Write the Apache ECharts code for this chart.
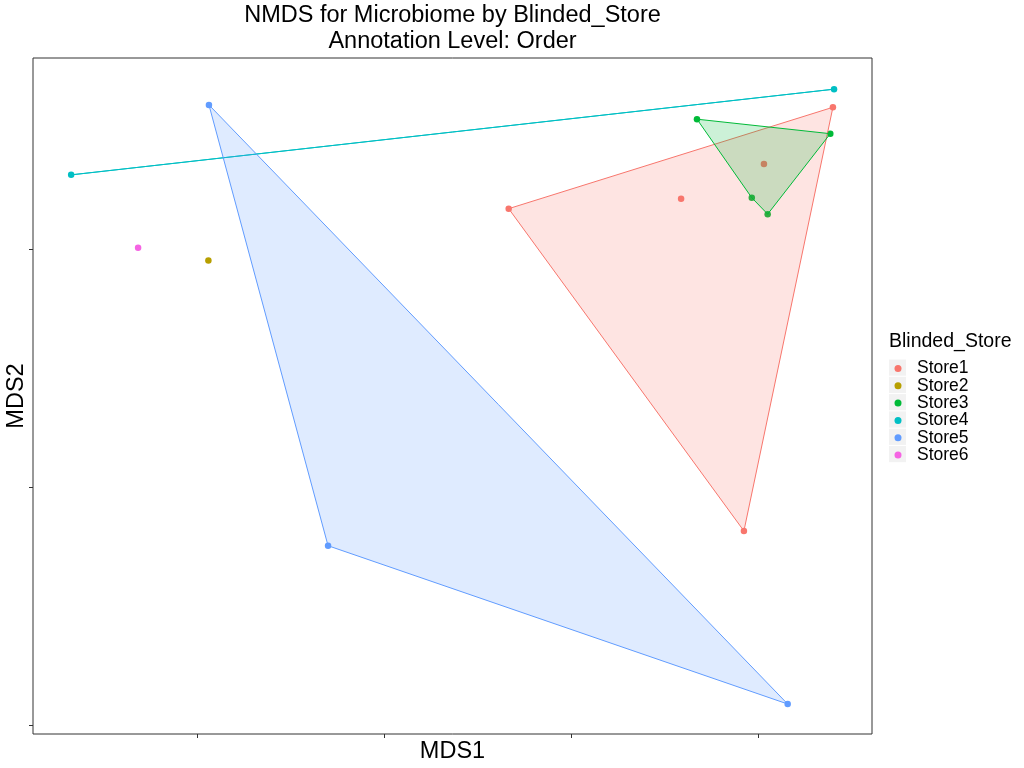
<!DOCTYPE html>
<html>
<head>
<meta charset="utf-8">
<title>NMDS for Microbiome by Blinded_Store</title>
<script src="https://cdn.jsdelivr.net/npm/echarts@6/dist/echarts.min.js"></script>
<style>
    html, body { margin: 0; padding: 0; background: #fff; }
    #chart { width: 1024px; height: 768px; }
</style>
</head>
<body>
<div id="chart"></div>
<script>
// stores and their colours (ggplot default hue palette)
var storeNames = ['Store1', 'Store2', 'Store3', 'Store4', 'Store5', 'Store6'];
var storeColors = ['#F8766D', '#B79F00', '#00BA38', '#00BFC4', '#619CFF', '#F564E3'];

// NMDS scores [MDS1, MDS2]
var store1 = [[-0.0336, 0.1172], [0.0586, 0.1214], [0.1398, 0.1598], [0.0922, -0.0182], [0.1029, 0.1360]];
var store2 = [[-0.1942, 0.0954]];
var store3 = [[0.0671, 0.1548], [0.1384, 0.1487], [0.1049, 0.1149], [0.0964, 0.1218]];
var store4 = [[-0.2676, 0.1314], [0.1404, 0.1674]];
var store5 = [[-0.1939, 0.1608], [-0.1302, -0.0244], [0.1156, -0.0909]];
var store6 = [[-0.2318, 0.1008]];
var storeData = [store1, store2, store3, store4, store5, store6];

// tick positions (no labels are shown)
var xTicks = [-0.2, -0.1, 0, 0.1];
var yTicks = [-0.1, 0, 0.1];

var FONT = 'Liberation Sans';

// convex hull (monotone chain), same idea as chull() in R
var convexHull = function (points) {
    var pts = points.slice().sort(function (a, b) { return a[0] - b[0] || a[1] - b[1]; });
    if (pts.length < 3) {
        return pts;
    }
    var cross = function (o, a, b) {
        return (a[0] - o[0]) * (b[1] - o[1]) - (a[1] - o[1]) * (b[0] - o[0]);
    };
    var lower = [], upper = [], i;
    for (i = 0; i < pts.length; i++) {
        while (lower.length >= 2 && cross(lower[lower.length - 2], lower[lower.length - 1], pts[i]) <= 0) {
            lower.pop();
        }
        lower.push(pts[i]);
    }
    for (i = pts.length - 1; i >= 0; i--) {
        while (upper.length >= 2 && cross(upper[upper.length - 2], upper[upper.length - 1], pts[i]) <= 0) {
            upper.pop();
        }
        upper.push(pts[i]);
    }
    upper.pop();
    lower.pop();
    return lower.concat(upper);
};

var hexToRgba = function (hex, a) {
    var n = parseInt(hex.slice(1), 16);
    return 'rgba(' + (n >> 16) + ',' + ((n >> 8) & 255) + ',' + (n & 255) + ',' + a + ')';
};

var series = [];

// points
storeNames.forEach(function (name, i) {
    series.push({
        name: name,
        type: 'scatter',
        data: storeData[i],
        symbol: 'circle',
        symbolSize: 6.5,
        itemStyle: { color: storeColors[i], opacity: 1 },
        z: 2
    });
});

// hull polygons, drawn over the points
storeNames.forEach(function (name, i) {
    var hull = convexHull(storeData[i]);
    if (hull.length < 2) {
        return;
    }
    series.push({
        name: name,
        type: 'custom',
        data: hull,
        clip: true,
        z: 3,
        silent: true,
        renderItem: function (params, api) {
            if (params.dataIndex !== 0) {
                return null;
            }
            var pts = hull.map(function (p) { return api.coord(p); });
            return {
                type: 'polygon',
                shape: { points: pts },
                style: {
                    fill: hull.length > 2 ? hexToRgba(storeColors[i], 0.2) : 'none',
                    stroke: storeColors[i],
                    lineWidth: 1
                }
            };
        }
    });
});

// grey key backgrounds like ggplot legend keys
var keyRects = storeNames.map(function (name, i) {
    return {
        type: 'rect',
        left: 889,
        top: 359.5 + i * 17.3,
        shape: { width: 17, height: 16.2 },
        style: { fill: '#F2F2F2' },
        z: -1
    };
});

var axisCommon = {
    type: 'value',
    nameLocation: 'middle',
    nameTextStyle: { fontFamily: FONT, fontSize: 23.5, color: '#000' },
    axisLine: { show: false, onZero: false },
    axisLabel: { show: false },
    splitLine: { show: false },
    axisTick: {
        show: true,
        inside: false,
        length: 4,
        lineStyle: { color: '#333', width: 1 }
    }
};

var option = {
    backgroundColor: '#fff',
    animation: false,
    title: [
        {
            text: 'NMDS for Microbiome by Blinded_Store\nAnnotation Level: Order',
            left: 452.5,
            top: 3,
            padding: 0,
            textAlign: 'center',
            textStyle: { fontFamily: FONT, fontSize: 23.5, fontWeight: 'normal', color: '#000', lineHeight: 26 }
        },
        {
            text: 'Blinded_Store',
            left: 889,
            top: 331.5,
            padding: 0,
            textStyle: { fontFamily: FONT, fontSize: 19.5, fontWeight: 'normal', color: '#000', lineHeight: 20 }
        }
    ],
    legend: {
        orient: 'vertical',
        left: 894.5,
        top: 359.5,
        padding: 0,
        itemGap: -0.7,
        itemWidth: 7,
        itemHeight: 7,
        data: storeNames.map(function (n) { return { name: n, icon: 'circle' }; }),
        formatter: '{gap| }{name}',
        textStyle: {
            fontFamily: FONT,
            fontSize: 17.5,
            color: '#000',
            rich: {
                gap: { width: 10.5 }
            }
        },
        selectedMode: true
    },
    graphic: keyRects,
    grid: {
        left: 33,
        right: 152,
        top: 58,
        bottom: 34,
        containLabel: false,
        outerBoundsMode: 'none',
        show: true,
        borderColor: '#333',
        borderWidth: 1,
        backgroundColor: '#fff'
    },
    xAxis: echarts.util.merge({
        name: 'MDS1',
        nameGap: 6,
        min: -0.288,
        max: 0.1607,
        splitNumber: 4,
        axisTick: { customValues: xTicks }
    }, axisCommon),
    yAxis: echarts.util.merge({
        name: 'MDS2',
        nameGap: 4,
        min: -0.1035,
        max: 0.1805,
        splitNumber: 3,
        axisTick: { customValues: yTicks }
    }, axisCommon),
    series: series
};

var myChart = echarts.init(document.getElementById('chart'));
myChart.setOption(option);
</script>
</body>
</html>
